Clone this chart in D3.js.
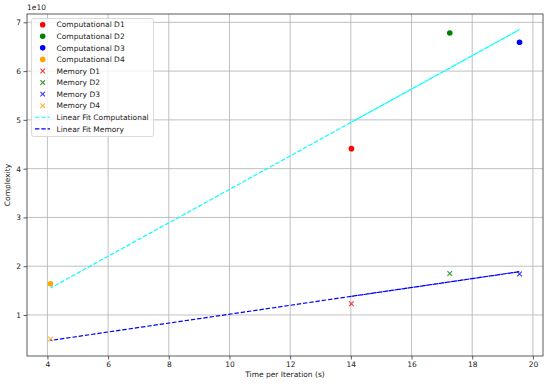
<!DOCTYPE html>
<html>
<head>
<meta charset="utf-8">
<script src="https://cdn.jsdelivr.net/npm/d3@7"></script>
<style>
  body { margin: 0; background: #fff; }
  text { font-family: "DejaVu Sans", sans-serif; fill: #222; }
</style>
</head>
<body>
<div id="chart"></div>
<script>
// data (complexity in units of 1e10)
var datasets = ['D1', 'D2', 'D3', 'D4'];
var timePerIter = [14.02, 17.26, 19.56, 4.1];
var compComplexity = [4.41, 6.78, 6.59, 1.64];
var memComplexity = [1.23, 1.85, 1.84, 0.507];
var colors = ['red', 'green', 'blue', 'orange'];
var xTicks = [4, 6, 8, 10, 12, 14, 16, 18, 20];
var yTicks = [1, 2, 3, 4, 5, 6, 7];

var W = 550, H = 384;
var pLeft = 27, pRight = 543, pTop = 14, pBottom = 356;

function linFit(xs, ys) {
    var mx = d3.mean(xs), my = d3.mean(ys);
    var sxy = d3.sum(xs, (x, i) => (x - mx) * (ys[i] - my));
    var sxx = d3.sum(xs, x => (x - mx) * (x - mx));
    var m = sxy / sxx;
    return xs.map(x => my + m * (x - mx));
}
var compFit = linFit(timePerIter, compComplexity);
var memFit = linFit(timePerIter, memComplexity);

function padded(arr) {
    var e = d3.extent(arr), p = (e[1] - e[0]) * 0.05;
    return [e[0] - p, e[1] + p];
}

var x = d3.scaleLinear().domain(padded(timePerIter)).range([pLeft, pRight]);
var y = d3.scaleLinear()
    .domain(padded(compComplexity.concat(memComplexity, compFit, memFit)))
    .range([pBottom, pTop]);

var svg = d3.select('#chart').append('svg').attr('width', W).attr('height', H);

// grid
svg.append('g').selectAll('line').data(xTicks).enter().append('line')
    .attr('x1', d => x(d)).attr('x2', d => x(d)).attr('y1', pTop).attr('y2', pBottom)
    .attr('stroke', '#b0b0b0').attr('stroke-width', 0.8);
svg.append('g').selectAll('line').data(yTicks).enter().append('line')
    .attr('y1', d => y(d)).attr('y2', d => y(d)).attr('x1', pLeft).attr('x2', pRight)
    .attr('stroke', '#b0b0b0').attr('stroke-width', 0.8);

// axes
var xAxis = d3.axisBottom(x).tickValues(xTicks).tickSize(3.5).tickPadding(2.5);
var yAxis = d3.axisLeft(y).tickValues(yTicks).tickFormat(d3.format('d')).tickSize(3.5).tickPadding(2.5);
var gx = svg.append('g').attr('transform', 'translate(0,' + pBottom + ')').call(xAxis);
var gy = svg.append('g').attr('transform', 'translate(' + pLeft + ',0)').call(yAxis);
[gx, gy].forEach(g => {
    g.select('.domain').remove();
    g.selectAll('.tick line').attr('stroke', '#333').attr('stroke-width', 0.8);
    g.selectAll('.tick text').style('font-size', '7.5px').attr('fill', '#222');
});

// frame
svg.append('rect').attr('x', pLeft).attr('y', pTop)
    .attr('width', pRight - pLeft).attr('height', pBottom - pTop)
    .attr('fill', 'none').attr('stroke', '#333').attr('stroke-width', 0.8);

svg.append('text').attr('x', pLeft).attr('y', pTop - 4).style('font-size', '7.5px').text('1e10');

svg.append('text').attr('x', (pLeft + pRight) / 2).attr('y', 377)
    .attr('text-anchor', 'middle').style('font-size', '7.5px').text('Time per Iteration (s)');
svg.append('text').attr('transform', 'translate(10,' + (pTop + pBottom) / 2 + ') rotate(-90)')
    .attr('text-anchor', 'middle').style('font-size', '7.5px').text('Complexity');

// scatter
svg.append('g').selectAll('circle').data(datasets).enter().append('circle')
    .attr('cx', (d, i) => x(timePerIter[i])).attr('cy', (d, i) => y(compComplexity[i]))
    .attr('r', 2.8).attr('fill', (d, i) => colors[i]);

function cross(g, cx, cy, s, c) {
    g.append('path')
        .attr('d', 'M' + (cx - s) + ',' + (cy - s) + 'L' + (cx + s) + ',' + (cy + s) +
            'M' + (cx - s) + ',' + (cy + s) + 'L' + (cx + s) + ',' + (cy - s))
        .attr('stroke', c).attr('stroke-width', 1.1).attr('fill', 'none').attr('opacity', 0.8);
}
var mg = svg.append('g');
datasets.forEach((d, i) => cross(mg, x(timePerIter[i]), y(memComplexity[i]), 2.3, colors[i]));

// fit lines drawn in data order
var line = d3.line().x(d => x(d[0])).y(d => y(d[1]));
svg.append('path').datum(timePerIter.map((t, i) => [t, compFit[i]]))
    .attr('d', line).attr('fill', 'none').attr('stroke', 'cyan')
    .attr('stroke-width', 1.2).attr('stroke-dasharray', '4.4,1.9');
svg.append('path').datum(timePerIter.map((t, i) => [t, memFit[i]]))
    .attr('d', line).attr('fill', 'none').attr('stroke', 'blue')
    .attr('stroke-width', 1.2).attr('stroke-dasharray', '4.4,1.9');

// legend
var lg = svg.append('g');
lg.append('rect').attr('x', 31.5).attr('y', 18.5).attr('width', 122).attr('height', 118)
    .attr('rx', 2).attr('fill', 'white').attr('fill-opacity', 0.8)
    .attr('stroke', '#d0d0d0').attr('stroke-width', 0.8);
var rowH = 11.57, rowY0 = 24.7, markX = 42.7, textX = 56.5;
var labels = [];
datasets.forEach((d, i) => labels.push({ t: 'Computational ' + d, k: 'dot', c: colors[i] }));
datasets.forEach((d, i) => labels.push({ t: 'Memory ' + d, k: 'x', c: colors[i] }));
labels.push({ t: 'Linear Fit Computational', k: 'line', c: 'cyan' });
labels.push({ t: 'Linear Fit Memory', k: 'line', c: 'blue' });
labels.forEach((l, i) => {
    var yy = rowY0 + i * rowH;
    if (l.k === 'dot') lg.append('circle').attr('cx', markX).attr('cy', yy).attr('r', 2.8).attr('fill', l.c);
    else if (l.k === 'x') cross(lg, markX, yy, 2.3, l.c);
    else lg.append('line').attr('x1', 35).attr('x2', 50).attr('y1', yy).attr('y2', yy)
        .attr('stroke', l.c).attr('stroke-width', 1.2).attr('stroke-dasharray', '4.4,1.9');
    lg.append('text').attr('x', textX).attr('y', yy + 2.7).style('font-size', '7.5px').text(l.t);
});
</script>
</body>
</html>
